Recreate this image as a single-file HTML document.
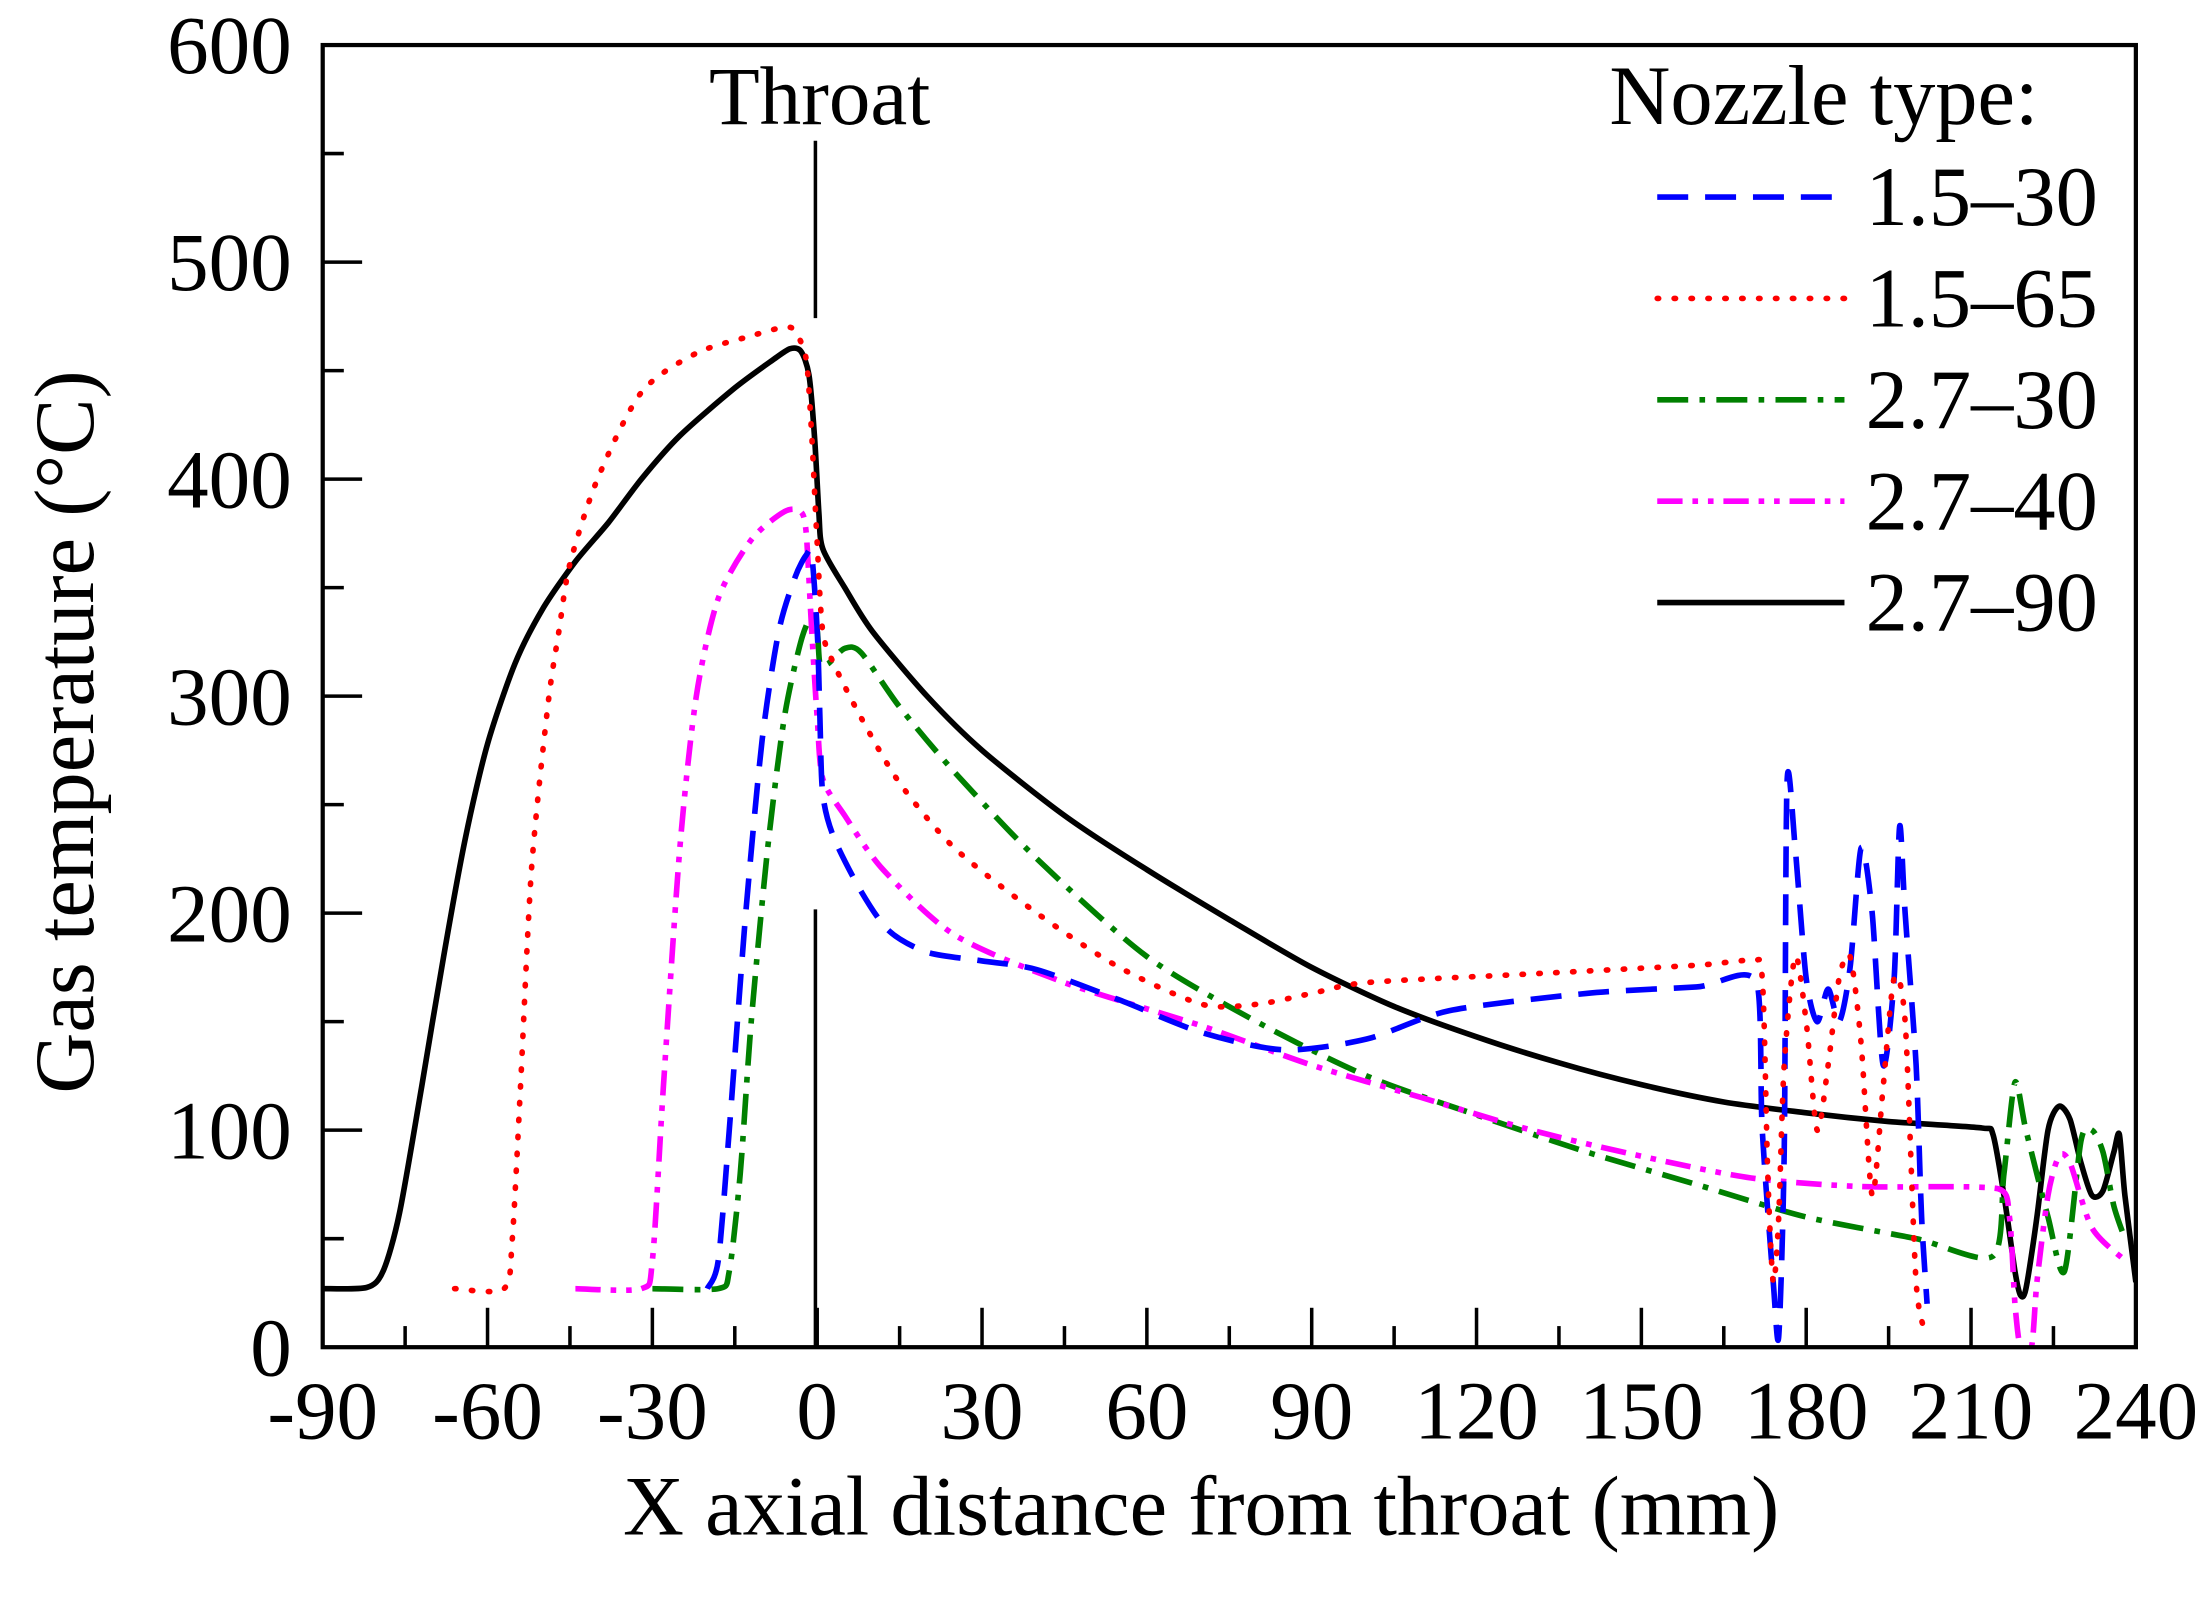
<!DOCTYPE html>
<html><head><meta charset="utf-8"><style>
html,body{margin:0;padding:0;background:#fff;}
svg{display:block;}
text{font-family:"Liberation Serif",serif;fill:#000;}
</style></head><body>
<svg id="s" width="2208" height="1602" viewBox="0 0 1568 1138" xmlns="http://www.w3.org/2000/svg">
<defs><clipPath id="c"><rect x="229" y="32" width="1288" height="925"/></clipPath></defs>
<rect x="0" y="0" width="1568" height="1138" fill="#fff"/>
<g id="ticks" stroke="#000" stroke-width="2.5"></g>
<g id="curves" clip-path="url(#c)" fill="none" stroke-linejoin="round"></g>
<rect x="229" y="32" width="1288" height="925" fill="none" stroke="#000" stroke-width="3"/>
<line x1="579" y1="100" x2="579" y2="226" stroke="#000" stroke-width="2.5"/>
<line x1="579" y1="646" x2="579" y2="957" stroke="#000" stroke-width="2.5"/>
<text x="582" y="88" font-size="59" text-anchor="middle">Throat</text>
<g id="labels" font-size="59"></g>
<text x="853" y="1090" font-size="60" text-anchor="middle">X axial distance from throat (mm)</text>
<text transform="translate(66,520) rotate(-90)" font-size="60" text-anchor="middle">Gas temperature (°C)</text>
<text x="1143" y="88" font-size="60">Nozzle type:</text>
<g id="legend" font-size="60"></g>
</svg>
<script>
const NS="http://www.w3.org/2000/svg";
const X=v=>229+(v+90)*1288/330, Y=t=>957-t*925/600;
function el(p,tag,a,txt){const e=document.createElementNS(NS,tag);for(const k in a)e.setAttribute(k,a[k]);if(txt!==undefined)e.textContent=txt;p.appendChild(e);return e;}
const tk=document.getElementById('ticks'),lb=document.getElementById('labels');
for(let v=-90;v<=240;v+=15){const maj=v%30===0;el(tk,'line',{x1:X(v),x2:X(v),y1:957,y2:957-(maj?28:15)});}
for(let v=-90;v<=240;v+=30){el(lb,'text',{x:X(v),y:1022,'text-anchor':'middle'},String(v));}
for(let t=0;t<=600;t+=50){const maj=t%100===0;el(tk,'line',{x1:229,x2:229+(maj?28:15),y1:Y(t),y2:Y(t)});}
for(let t=0;t<=600;t+=100){el(lb,'text',{x:207,y:Y(t)+20,'text-anchor':'end'},String(t));}
const S={
blue:{c:'#0000ff',d:'22 12',cap:'butt'},
red:{c:'#ff0000',d:'1 11',cap:'round'},
green:{c:'#008000',d:'22 8 4 8',cap:'butt'},
mag:{c:'#ff00ff',d:'18 7 4 7 4 7',cap:'butt'},
black:{c:'#000',d:'',cap:'butt'}};
const D={
black:[[-90,27],[-82,27.5],[-79,35],[-76,62],[-72,120],[-68,180],[-64,235],[-60,278],[-55,315],[-50,340],[-44,362],[-38,380],[-32,400],[-25,420],[-15,442],[-8,455],[-5,460],[-3,459],[-1.5,448],[-0.5,420],[0.3,385],[1,368],[5,350],[10,330],[20,300],[30,275],[45,245],[60,220],[75,197],[90,175],[105,157],[120,143],[135,131],[150,121],[165,113],[180,108],[195,104],[212,101],[214,98],[216,70],[218,35],[219,24],[220,27],[222,60],[224,100],[226,111],[228,105],[230,85],[232,70],[234,72],[236,90],[237,98],[238,70],[240,30]],
red:[[-66,27],[-57,27],[-55.5,50],[-54,120],[-52,220],[-49,296],[-47,330],[-45,361],[-40,400],[-32,440],[-22,458],[-12,466],[-6,470],[-4,468],[-2,455],[-1,420],[0,370],[1,330],[3,315],[8,290],[15,260],[25,230],[40,200],[55,175],[70,158],[80,158],[90,163],[100,168],[130,172],[160,176],[170,178],[172,170],[173,80],[174,30],[175,60],[176,130],[178,180],[180,150],[182,100],[184,130],[186,170],[188,180],[190,140],[192,70],[194,120],[196,170],[198,150],[200,30],[202,5]],
blue:[[-20,27],[-18,40],[-16,100],[-13,200],[-10,280],[-7,330],[-4,355],[-2,365],[-1,365],[0,330],[0.5,290],[1,255],[3,235],[8,210],[13,192],[20,182],[30,178],[40,174],[55,160],[70,145],[85,137],[100,142],[115,155],[140,163],[160,166],[171,168],[172,100],[174,30],[175,5],[176,90],[176.5,260],[178,230],[180,170],[182,150],[184,165],[186,150],[188,175],[190,230],[192,200],[194,130],[196,170],[197,240],[198,200],[200,130],[201,60],[202,20]],
green:[[-30,27],[-18,27],[-16,35],[-14,80],[-12,150],[-9,230],[-6,290],[-3,325],[-1,337],[0,330],[0.5,315],[2,315],[5,322],[8,320],[15,295],[25,265],[40,225],[60,180],[80,150],[100,125],[120,107],[140,90],[160,75],[180,60],[200,50],[214,42],[216,80],[218,122],[220,100],[224,60],[227,35],[230,95],[232,100],[234,90],[236,65],[238,50]],
mag:[[-44,27],[-32,27],[-30,40],[-28,120],[-25,230],[-22,300],[-18,345],[-12,372],[-6,385],[-3,385],[-2,375],[-1,330],[0,290],[1,262],[5,245],[12,220],[25,190],[45,168],[70,148],[90,130],[110,115],[130,100],[150,88],[170,78],[190,74],[215,73],[217,60],[218,20],[219,0],[221,0],[222,30],[224,70],[226,88],[228,85],[232,55],[238,40]]};
function smooth(pts){
 const P=pts.map(p=>[X(p[0]),Y(p[1])]);
 let d='M'+P[0][0].toFixed(1)+','+P[0][1].toFixed(1);
 for(let i=0;i<P.length-1;i++){
  const p0=P[Math.max(0,i-1)],p1=P[i],p2=P[i+1],p3=P[Math.min(P.length-1,i+2)];
  const t=1/6*0.8;
  let c1=[p1[0]+(p2[0]-p0[0])*t,p1[1]+(p2[1]-p0[1])*t];
  let c2=[p2[0]-(p3[0]-p1[0])*t,p2[1]-(p3[1]-p1[1])*t];
  c1[0]=Math.min(Math.max(c1[0],Math.min(p1[0],p2[0])),Math.max(p1[0],p2[0]));
  c2[0]=Math.min(Math.max(c2[0],Math.min(p1[0],p2[0])),Math.max(p1[0],p2[0]));
  d+='C'+c1[0].toFixed(1)+','+c1[1].toFixed(1)+' '+c2[0].toFixed(1)+','+c2[1].toFixed(1)+' '+p2[0].toFixed(1)+','+p2[1].toFixed(1);
 }
 return d;
}
const cv=document.getElementById('curves');
['black','green','mag','blue','red'].forEach(k=>{
 const a={d:smooth(D[k]),stroke:S[k].c,'stroke-width':4,'stroke-linecap':S[k].cap};
 if(S[k].d)a['stroke-dasharray']=S[k].d;
 el(cv,'path',a);
});
const lg=document.getElementById('legend');
[['blue','1.5–30'],['red','1.5–65'],['green','2.7–30'],['mag','2.7–40'],['black','2.7–90']].forEach((e,i)=>{
 const y=140+i*72;
 const a={x1:1177,x2:1310,y1:y,y2:y,stroke:S[e[0]].c,'stroke-width':4,'stroke-linecap':S[e[0]].cap};
 if(S[e[0]].d)a['stroke-dasharray']=S[e[0]].d;
 el(lg,'line',a);
 el(lg,'text',{x:1325,y:y+20},e[1]);
});
</script>
</body></html>
